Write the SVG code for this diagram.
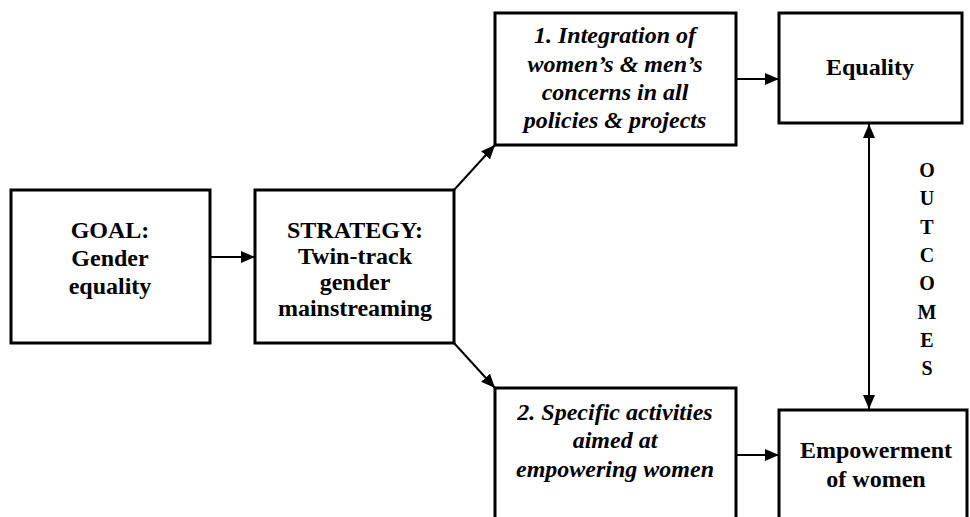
<svg xmlns="http://www.w3.org/2000/svg" width="970" height="517" viewBox="0 0 970 517">
<defs>
<marker id="ah" viewBox="0 0 14 12" refX="14" refY="6" markerWidth="14" markerHeight="12" markerUnits="userSpaceOnUse" orient="auto-start-reverse">
<path d="M0,0 L14,6 L0,12 Z" fill="#000"/>
</marker>
<style>
.box{fill:#fff;stroke:#000;stroke-width:3}
.t{font-family:"Liberation Serif","Times New Roman",serif;font-weight:bold;font-size:24px;text-anchor:middle;fill:#000}
.i{font-style:italic}
.o{font-size:20px}
.c{fill:none;stroke:#000;stroke-width:2}
</style>
</defs>
<rect width="970" height="517" fill="#fff"/>
<g id="connectors">
<line class="c" x1="210" y1="257" x2="255" y2="257" marker-end="url(#ah)"/>
<line class="c" x1="454" y1="190" x2="495" y2="145" marker-end="url(#ah)"/>
<line class="c" x1="454" y1="343" x2="495" y2="388" marker-end="url(#ah)"/>
<line class="c" x1="736" y1="79" x2="779" y2="79" marker-end="url(#ah)"/>
<line class="c" x1="736" y1="455" x2="779" y2="455" marker-end="url(#ah)"/>
<line class="c" x1="869" y1="124" x2="869" y2="409" marker-start="url(#ah)" marker-end="url(#ah)"/>
</g>
<g id="goal">
<rect class="box" x="11" y="190" width="199" height="153"/>
<text class="t" x="110" y="238">GOAL:</text>
<text class="t" x="110" y="266">Gender</text>
<text class="t" x="110" y="294">equality</text>
</g>
<g id="strategy">
<rect class="box" x="255" y="190" width="199" height="153"/>
<text class="t" x="355" y="238">STRATEGY:</text>
<text class="t" x="355" y="264">Twin-track</text>
<text class="t" x="355" y="290">gender</text>
<text class="t" x="355" y="316">mainstreaming</text>
</g>
<g id="integration">
<rect class="box" x="495" y="13" width="241" height="132"/>
<text class="t i" x="615" y="43">1. Integration of</text>
<text class="t i" x="615" y="72">women’s &amp; men’s</text>
<text class="t i" x="615" y="100">concerns in all</text>
<text class="t i" x="615" y="128">policies &amp; projects</text>
</g>
<g id="specific">
<rect class="box" x="495" y="388" width="241" height="150"/>
<text class="t i" x="615" y="420">2. Specific activities</text>
<text class="t i" x="615" y="448">aimed at</text>
<text class="t i" x="615" y="477">empowering women</text>
</g>
<g id="equality">
<rect class="box" x="779" y="13" width="183" height="110"/>
<text class="t" x="870" y="75">Equality</text>
</g>
<g id="empowerment">
<rect class="box" x="779" y="410" width="188" height="130"/>
<text class="t" x="876" y="458">Empowerment</text>
<text class="t" x="876" y="487">of women</text>
</g>
<g id="outcomes">
<text class="t o" x="927" y="177">O</text>
<text class="t o" x="927" y="205">U</text>
<text class="t o" x="927" y="234">T</text>
<text class="t o" x="927" y="262">C</text>
<text class="t o" x="927" y="290">O</text>
<text class="t o" x="927" y="319">M</text>
<text class="t o" x="927" y="347">E</text>
<text class="t o" x="927" y="375">S</text>
</g>
</svg>
